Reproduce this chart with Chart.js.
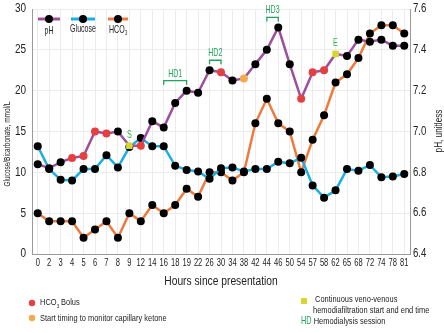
<!DOCTYPE html>
<html>
<head>
<meta charset="utf-8">
<script src="https://cdn.jsdelivr.net/npm/chart.js@4.4.1/dist/chart.umd.min.js"></script>
<style>
    html, body { margin: 0; padding: 0; background: #ffffff; }
    #box { width: 444px; height: 333px; }
</style>
</head>
<body>
<div id="box"><canvas id="LineChart_hours"></canvas></div>
<script>
// часы с момента поступления
let labels_hours = ["0", "2", "3", "4", "5", "6", "7", "8", "9", "12", "14", "16", "18", "19", "22", "26", "30",
    "34", "38", "42", "44", "46", "50", "54", "57", "58", "62", "65", "68", "72", "74", "78", "81"];

let data_pH = [6.84, 6.82, 6.85, 6.87, 6.88, 7.00, 6.99, 7.00, 6.93, 6.93, 7.05, 7.02, 7.14, 7.20, 7.19, 7.30, 7.29,
    7.25, 7.26, 7.33, 7.40, 7.51, 7.33, 7.16, 7.29, 7.30, 7.38, 7.37, 7.45, 7.44, 7.45, 7.42, 7.42];

let data_glucose = [13.2, 10.4, 9.1, 9.0, 10.4, 10.4, 12.1, 10.6, 13.1, 14.2, 13.2, 13.2, 10.8, 10.3, 10.1, 9.2, 10.5,
    10.6, 10.1, 10.4, 10.4, 11.3, 11.1, 11.8, 8.4, 6.9, 7.8, 10.4, 10.2, 10.9, 9.4, 9.5, 9.8];

let data_hco3 = [5, 4, 4, 4, 2, 3, 4, 2, 5, 4, 6, 5, 6, 8, 7, 10, 10,
    9, 10, 16, 19, 16, 15, 10, 14, 17, 21, 22, 24, 27, 28, 28, 27];

// события на кривой pH: "" - обычная точка, bolus - болюс HCO3, ketone - контроль кетонов, cvvhdf - начало/конец CVVHDF
let events_pH = ["", "", "", "bolus", "bolus", "bolus", "bolus", "", "cvvhdf", "bolus", "", "", "", "", "", "", "bolus",
    "", "ketone", "", "", "", "", "bolus", "bolus", "bolus", "cvvhdf", "", "", "", "", "", ""];

let cvvhdf_marks = [{index: 8, text: "S"}, {index: 26, text: "E"}];
let hd_sessions = [{text: "HD1", from: 11, to: 13}, {text: "HD2", from: 15, to: 16}, {text: "HD3", from: 20, to: 21}];

let ticks_left = [0, 5, 10, 15, 20, 25, 30];
let ticks_right = [6.4, 6.6, 6.8, 7.0, 7.2, 7.4, 7.6];

const FONT = "'Liberation Sans', Arial, sans-serif";
const color_pH = "#9b4f9d";
const color_glucose = "#1aaee6";
const color_hco3 = "#ee7a3c";
const color_bolus = "#e5403f";
const color_ketone = "#f5a948";
const color_cvvhdf = "#d6d62c";
const color_hd = "#1fa35e";
const color_text = "#222222";

function pointColor(kind) {
    if (kind === "bolus") return color_bolus;
    if (kind === "ketone") return color_ketone;
    if (kind === "cvvhdf") return color_cvvhdf;
    return "#000000";
}

// текст с поджатием по ширине (шрифт на графике узкий)
function narrowText(ctx, text, x, y, size, squeeze, align, color) {
    ctx.save();
    ctx.font = size + "px " + FONT;
    ctx.fillStyle = color || color_text;
    ctx.textBaseline = "middle";
    let w = ctx.measureText(text).width * squeeze;
    let x0 = x;
    if (align === "center") x0 = x - w / 2;
    if (align === "right") x0 = x - w;
    ctx.translate(x0, y);
    ctx.scale(squeeze, 1);
    ctx.textAlign = "left";
    ctx.fillText(text, 0, 0);
    ctx.restore();
    return w;
}

// HCO + индекс 3
function hcoText(ctx, x, y, size, squeeze, align) {
    ctx.save();
    ctx.font = size + "px " + FONT;
    let w1 = ctx.measureText("HCO").width * squeeze;
    ctx.font = (size * 0.6) + "px " + FONT;
    let w2 = ctx.measureText("3").width * squeeze;
    ctx.restore();
    let x0 = align === "center" ? x - (w1 + w2) / 2 : x;
    narrowText(ctx, "HCO", x0, y, size, squeeze, "left");
    narrowText(ctx, "3", x0 + w1 + 0.3, y + size * 0.35, size * 0.6, squeeze, "left");
    return w1 + w2;
}

const extrasPlugin = {
    id: "extras",
    afterDatasetsDraw(chart) {
        const ctx = chart.ctx;
        const a = chart.chartArea;
        const x = chart.scales.x;
        const y1 = chart.scales.y1;

        // легенда внутри графика
        let items = [
            {name: "pH", color: color_pH, cx: a.left + 17, w: 22},
            {name: "Glucose", color: color_glucose, cx: a.left + 51, w: 24},
            {name: "HCO3", color: color_hco3, cx: a.left + 86, w: 20}
        ];
        items.forEach(function (it) {
            ctx.save();
            ctx.strokeStyle = it.color;
            ctx.lineWidth = 3;
            ctx.beginPath();
            ctx.moveTo(it.cx - it.w / 2, a.top + 10);
            ctx.lineTo(it.cx + it.w / 2, a.top + 10);
            ctx.stroke();
            ctx.fillStyle = "#000";
            ctx.beginPath();
            ctx.arc(it.cx, a.top + 10, 4, 0, Math.PI * 2);
            ctx.fill();
            ctx.restore();
            if (it.name === "HCO3") {
                hcoText(ctx, it.cx, a.top + 21, 10.5, 0.67, "center");
            } else {
                narrowText(ctx, it.name, it.cx, a.top + (it.name === "pH" ? 22 : 20), 10.5, 0.67, "center");
            }
        });

        // метки S / E
        cvvhdf_marks.forEach(function (m) {
            let px = x.getPixelForValue(m.index);
            let py = y1.getPixelForValue(data_pH[m.index]);
            narrowText(ctx, m.text, px, py - 11, 11, 0.66, "center", "#35b24a");
        });

        // сеансы гемодиализа
        hd_sessions.forEach(function (s) {
            let xa = x.getPixelForValue(s.from);
            let xb = x.getPixelForValue(s.to);
            let top = Infinity;
            for (let i = s.from; i <= s.to; i++) top = Math.min(top, y1.getPixelForValue(data_pH[i]));
            let by = top - 10;
            ctx.save();
            ctx.strokeStyle = color_hd;
            ctx.lineWidth = 1.3;
            ctx.beginPath();
            ctx.moveTo(xa, by + 4);
            ctx.lineTo(xa, by);
            ctx.lineTo(xb, by);
            ctx.lineTo(xb, by + 4);
            ctx.stroke();
            ctx.restore();
            narrowText(ctx, s.text, (xa + xb) / 2, by - 7, 11, 0.64, "center", color_hd);
        });
    },
    afterDraw(chart) {
        const ctx = chart.ctx;
        const a = chart.chartArea;
        const x = chart.scales.x;
        const y = chart.scales.y;
        const y1 = chart.scales.y1;

        // подписи делений
        labels_hours.forEach(function (lab, i) {
            narrowText(ctx, lab, x.getPixelForValue(i), a.bottom + 9, 10.5, 0.72, "center");
        });
        ticks_left.forEach(function (v) {
            narrowText(ctx, String(v), a.left - 6, y.getPixelForValue(v), 12.5, 0.8, "right");
        });
        ticks_right.forEach(function (v) {
            narrowText(ctx, v.toFixed(1), a.right + 3, y1.getPixelForValue(v), 12, 0.8, "left");
        });

        // подписи осей
        narrowText(ctx, "Hours since presentation", (a.left + a.right) / 2, 282, 12.5, 0.82, "center");

        ctx.save();
        ctx.translate(7, 144);
        ctx.rotate(-Math.PI / 2);
        narrowText(ctx, "Glucose/Bicarbonate, mmol/L", 0, 0, 9.8, 0.66, "center");
        ctx.restore();

        ctx.save();
        ctx.translate(439, 131);
        ctx.rotate(-Math.PI / 2);
        narrowText(ctx, "pH, unitless", 0, 0, 10, 0.82, "center");
        ctx.restore();

        // нижняя легенда
        ctx.save();
        ctx.fillStyle = color_bolus;
        ctx.beginPath();
        ctx.arc(32, 303, 3.2, 0, Math.PI * 2);
        ctx.fill();
        ctx.fillStyle = color_ketone;
        ctx.beginPath();
        ctx.arc(32, 318, 3.2, 0, Math.PI * 2);
        ctx.fill();
        ctx.fillStyle = color_cvvhdf;
        ctx.fillRect(301, 298, 6, 6);
        ctx.restore();

        let w = hcoText(ctx, 40, 302.5, 9.8, 0.76, "left");
        narrowText(ctx, " Bolus", 40 + w, 302.5, 9.8, 0.76, "left");
        narrowText(ctx, "Start timing to monitor capillary ketone", 40, 318, 9.8, 0.76, "left");
        narrowText(ctx, "Continuous veno-venous", 315, 299.5, 9.8, 0.76, "left");
        narrowText(ctx, "hemodiafiltration start and end time", 313, 310.5, 9.8, 0.76, "left");
        let wh = narrowText(ctx, "HD", 301, 321.5, 10.5, 0.7, "left", color_hd);
        narrowText(ctx, " Hemodialysis session", 301 + wh, 321.5, 9.8, 0.76, "left");
    }
};

function LineChart_hours(id_LineChart) {
    const ctx = document.getElementById(id_LineChart).getContext("2d");
    const myChart = new Chart(ctx, {
        type: "line",
        data: {
            labels: labels_hours,
            datasets: [{
                label: "pH",
                yAxisID: "y1",
                data: data_pH,
                borderColor: color_pH,
                borderWidth: 2.5,
                pointBackgroundColor: events_pH.map(pointColor),
                pointBorderWidth: 0,
                pointStyle: events_pH.map(function (k) { return k === "cvvhdf" ? "rect" : "circle"; }),
                pointRadius: events_pH.map(function (k) { return k === "cvvhdf" ? 4.6 : 4; }),
                lineTension: 0
            }, {
                label: "Glucose",
                yAxisID: "y",
                data: data_glucose,
                borderColor: color_glucose,
                borderWidth: 2.5,
                pointBackgroundColor: "#000000",
                pointBorderWidth: 0,
                pointRadius: 4,
                lineTension: 0
            }, {
                label: "HCO3",
                yAxisID: "y",
                data: data_hco3,
                borderColor: color_hco3,
                borderWidth: 2.5,
                pointBackgroundColor: "#000000",
                pointBorderWidth: 0,
                pointRadius: 4,
                lineTension: 0
            }]
        },
        options: {
            responsive: true,
            maintainAspectRatio: false,
            animation: false,
            layout: {padding: {top: 9, left: 0, right: 0, bottom: 0}},
            plugins: {
                legend: {display: false},
                tooltip: {enabled: false}
            },
            scales: {
                x: {
                    offset: true,
                    grid: {color: "#ececec", offset: false, drawTicks: false},
                    border: {color: "#9a9a9a", width: 1},
                    ticks: {display: false, autoSkip: false},
                    afterFit: function (scale) { scale.height = 79; }
                },
                y: {
                    position: "left",
                    min: 0, max: 30,
                    grid: {color: "#ececec", drawTicks: false},
                    border: {color: "#9a9a9a", width: 1},
                    afterBuildTicks: function (scale) {
                        scale.ticks = ticks_left.map(function (v) { return {value: v}; });
                    },
                    ticks: {display: false},
                    afterFit: function (scale) { scale.width = 32; }
                },
                y1: {
                    position: "right",
                    min: 6.4, max: 7.6,
                    grid: {drawOnChartArea: false, drawTicks: false},
                    border: {color: "#9a9a9a", width: 1},
                    afterBuildTicks: function (scale) {
                        scale.ticks = ticks_right.map(function (v) { return {value: v}; });
                    },
                    ticks: {display: false},
                    afterFit: function (scale) { scale.width = 34; }
                }
            }
        },
        plugins: [extrasPlugin]
    });
}

LineChart_hours("LineChart_hours");
</script>
</body>
</html>
